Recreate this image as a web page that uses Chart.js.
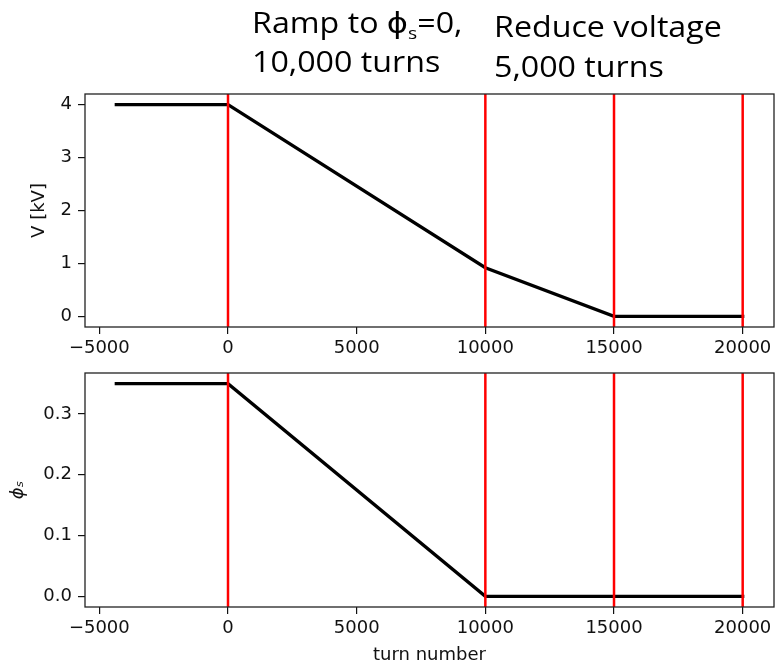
<!DOCTYPE html>
<html>
<head>
<meta charset="utf-8">
<script src="https://cdn.jsdelivr.net/npm/chart.js@4"></script>
<style>
  body { margin: 0; background: #fff; }
  #wrap { position: relative; width: 777px; height: 666px; }
  canvas { position: absolute; left: 0; }
  #topChart { top: 0; }
  #bottomChart { top: 330px; }
</style>
</head>
<body>
<div id="wrap">
  <canvas id="topChart" width="777" height="360"></canvas>
  <canvas id="bottomChart" width="777" height="336"></canvas>
</div>
<script>
// data
const turns = [-4340, 0, 10000, 15000, 20000];
const voltage = [4, 4, 0.92, 0, 0];
const phase = [0.35, 0.35, 0, 0, 0];
// red markers at the end of each step
const stepTurns = [0, 10000, 15000, 20000];
const turnTicks = [-5000, 0, 5000, 10000, 15000, 20000];
const voltageTicks = [0, 1, 2, 3, 4];
const phaseTicks = [0, 0.1, 0.2, 0.3];

const tickFont = { family: "'DejaVu Sans'", size: 18 };
const headFont = "'Open Sans', 'DejaVu Sans', sans-serif";

// matplotlib style 5% margin around the data
function padRange(values) {
  const lo = Math.min(...values);
  const hi = Math.max(...values);
  const m = (hi - lo) * 0.05;
  return [lo - m, hi + m];
}

// box around the plot area
const framePlugin = {
  id: "frame",
  afterDatasetsDraw(chart) {
    const a = chart.chartArea;
    const ctx = chart.ctx;
    ctx.save();
    ctx.strokeStyle = "#222";
    ctx.lineWidth = 1.3;
    ctx.strokeRect(a.left, a.top, a.right - a.left, a.bottom - a.top);
    ctx.restore();
  }
};

// text with a small lowered "s", a bit stretched sideways like the slide text
function drawRich(ctx, x, y, pieces, size) {
  const sx = 1.13;
  ctx.save();
  ctx.translate(x, y);
  ctx.scale(sx, 1);
  let cx = 0;
  for (let i = 0; i < pieces.length; i++) {
    const p = pieces[i];
    if (p.sub) {
      ctx.font = Math.round(size * 0.6) + "px " + headFont;
      ctx.fillText(p.text, cx, size * 0.22);
    } else {
      ctx.font = size + "px " + headFont;
      ctx.fillText(p.text, cx, 0);
    }
    cx += ctx.measureText(p.text).width;
  }
  ctx.restore();
}

const headerPlugin = {
  id: "header",
  afterDraw(chart) {
    const ctx = chart.ctx;
    ctx.save();
    ctx.fillStyle = "#000";
    ctx.textBaseline = "alphabetic";
    drawRich(ctx, 252, 33, [{ text: "Ramp to ϕ" }, { text: "s", sub: true }, { text: "=0," }], 28.5);
    drawRich(ctx, 252, 72, [{ text: "10,000 turns" }], 28.5);
    drawRich(ctx, 494, 37, [{ text: "Reduce voltage" }], 28.5);
    drawRich(ctx, 494, 77, [{ text: "5,000 turns" }], 28.5);
    ctx.restore();
  }
};

function makeChart(id, values, ticks, opts) {
  const [xMin, xMax] = padRange(turns);
  const [yMin, yMax] = padRange(values);

  // red lines first so they end up drawn on top
  const datasets = stepTurns.map(t => ({
    data: [{ x: t, y: yMin }, { x: t, y: yMax }],
    borderColor: "#ff0000",
    borderWidth: 2.5,
    pointRadius: 0
  }));
  datasets.push({
    data: turns.map((t, i) => ({ x: t, y: values[i] })),
    borderColor: "#000",
    borderWidth: 3.3,
    borderCapStyle: "square",
    pointRadius: 0
  });

  return new Chart(document.getElementById(id), {
    type: "line",
    data: { datasets: datasets },
    plugins: opts.plugins,
    options: {
      responsive: false,
      animation: false,
      layout: { padding: { top: opts.top, right: 3, left: 0, bottom: 0 } },
      plugins: { legend: { display: false }, tooltip: { enabled: false } },
      scales: {
        x: {
          type: "linear",
          min: xMin,
          max: xMax,
          afterBuildTicks: s => { s.ticks = turnTicks.map(v => ({ value: v })); },
          afterFit: s => { s.height = opts.xHeight; },
          ticks: {
            font: tickFont,
            color: "#111",
            padding: 4,
            maxRotation: 0,
            autoSkip: false,
            callback: v => v < 0 ? "\u2212" + Math.abs(v) : String(v)
          },
          grid: { drawOnChartArea: false, drawTicks: true, tickLength: 7, color: "#111", lineWidth: 1.2 },
          border: { display: false },
          title: {
            display: !!opts.xTitle,
            text: opts.xTitle || "",
            font: tickFont,
            color: "#111",
            padding: { top: 0, bottom: 0 }
          }
        },
        y: {
          min: yMin,
          max: yMax,
          afterBuildTicks: s => { s.ticks = ticks.map(v => ({ value: v })); },
          afterFit: s => { s.width = 85; },
          ticks: {
            font: tickFont,
            color: "#111",
            padding: 6,
            callback: v => v.toFixed(opts.digits)
          },
          grid: { drawOnChartArea: false, drawTicks: true, tickLength: 7, color: "#111", lineWidth: 1.2 },
          border: { display: false },
          title: {
            display: true,
            text: opts.yTitle,
            font: Object.assign({}, tickFont, opts.yStyle || {}),
            color: "#111",
            padding: { top: opts.yPad, bottom: 0 }
          }
        }
      }
    }
  });
}

window.addEventListener("DOMContentLoaded", () => {
  makeChart("topChart", voltage, voltageTicks, {
    top: 94, xHeight: 33, digits: 0, yTitle: "V [kV]", yPad: 29,
    plugins: [framePlugin, headerPlugin]
  });
  makeChart("bottomChart", phase, phaseTicks, {
    top: 43, xHeight: 59, digits: 1, yTitle: "ϕₛ", yPad: 8,
    yStyle: { style: "italic" }, xTitle: "turn number",
    plugins: [framePlugin]
  });
});
</script>
</body>
</html>
